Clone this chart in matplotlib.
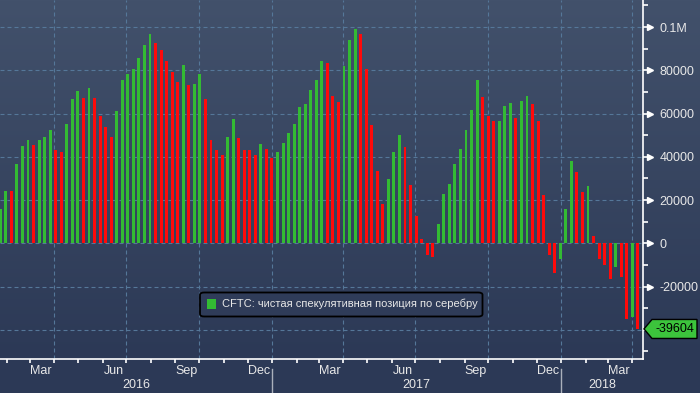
import numpy as np
import pandas as pd
import matplotlib
matplotlib.use("Agg")
import matplotlib.pyplot as plt
import matplotlib.dates as mdates
from matplotlib.patches import Polygon, FancyBboxPatch, Rectangle
from matplotlib.transforms import blended_transform_factory
from matplotlib.ticker import FixedLocator, MultipleLocator

plt.rcParams['font.family'] = ['Liberation Sans', 'DejaVu Sans']

# ---------------- data ----------------
last_date = "2018-04-06"
net_position = [
    15900, 24200, 24000, 36700, 45000, 47800, 45500, 47800, 49100, 52400,
    43100, 42200, 55100, 66700, 70400, 67200, 71800, 67200, 58900, 53800,
    49100, 61200, 75500, 78300, 80600, 85600, 91700, 96800, 92600, 89400,
    84300, 79200, 74600, 82400, 73200, 73600, 78300, 66700, 47800, 43100,
    40800, 49100, 57400, 48700, 43300, 43000, 40800, 45900, 43600, 39400,
    42200, 46300, 51000, 55100, 63000, 64400, 70900, 75500, 84300, 83400,
    68100, 65300, 81900, 94000, 99100, 96800, 80600, 54700, 33400, 18200,
    29700, 42200, 50100, 44500, 27000, 12600, 2000, -5300, -6200, 8900,
    22800, 27400, 36700, 43600, 52400, 61600, 75500, 67500, 58900, 56500,
    56700, 63500, 64900, 58100, 65800, 68100, 64400, 56500, 22300, -5300,
    -13600, -7100, 15900, 38000, 33000, 23700, 26500, 3400, -7400, -10200,
    -16300, -10800, -15700, -34800, -33900, -39604,
]
legend_label = "CFTC: чистая спекулятивная позиция по серебру"
month_label_dates = ["2016-03-15", "2016-06-15", "2016-09-15", "2016-12-15",
                     "2017-03-15", "2017-06-15", "2017-09-15", "2017-12-15",
                     "2018-03-15"]
month_labels = ["Mar", "Jun", "Sep", "Dec", "Mar", "Jun", "Sep", "Dec", "Mar"]
years = [2016, 2017, 2018]
y_major = [-40000, -20000, 0, 20000, 40000, 60000, 80000, 100000]
y_labels = ["", "-20000", "0", "20000", "40000", "60000", "80000", "0.1M"]

values = np.array(net_position, dtype=float)
dates = pd.date_range(end=last_date, periods=len(values), freq="7D")
prev = np.concatenate([[-np.inf], values[:-1]])
GREEN = "#33bb33"
RED = "#ff0a0a"
colors = [GREEN if v >= p else RED for v, p in zip(values, prev)]

# ---------------- figure ----------------
W, H = 700, 393
fig = plt.figure(figsize=(W / 100, H / 100), dpi=100)

# gradient background
bg = fig.add_axes([0, 0, 1, 1], zorder=-10)
top = np.array([66, 81, 107]) / 255
bot = np.array([44, 57, 86]) / 255
t = np.clip(np.linspace(0, 1, 393) / (359 / 393), 0, 1)[:, None]
grad = top * (1 - t) + bot * t
bg.imshow(grad[:, None, :], aspect="auto", extent=[0, 1, 0, 1])
bg.axis("off")

ax_l, ax_b = 0 / W, (H - 359) / H
ax_w, ax_h = 643 / W, 359 / H
ax = fig.add_axes([ax_l, ax_b, ax_w, ax_h])
ax.patch.set_alpha(0)

ax.bar(mdates.date2num(dates), values, width=3.7, align="edge",
       color=colors, linewidth=0, zorder=3)

x0 = mdates.date2num(pd.Timestamp("2016-04-01")) - 68.5
x1 = mdates.date2num(pd.Timestamp("2018-04-01")) + 13.3
ax.set_xlim(x0, x1)
ymin, ymax = -53500, 112500
ax.set_ylim(ymin, ymax)

GRID = "#557799"
for yv in y_major:
    ax.axhline(yv, color=GRID, lw=0.8, ls=(0, (3.6, 2.7)), zorder=1)
for q in pd.date_range("2016-04-01", "2018-04-01", freq="QS"):
    ax.axvline(mdates.date2num(q), color=GRID, lw=0.8, ls=(0, (3.6, 2.7)), zorder=1)

# spines
for s in ["top", "left"]:
    ax.spines[s].set_visible(False)
for s in ["bottom", "right"]:
    ax.spines[s].set_color("white")
    ax.spines[s].set_linewidth(1.2)

TXT = "#e8e8e8"
# y axis on right
ax.yaxis.tick_right()
ax.yaxis.set_major_locator(FixedLocator(y_major))
ax.set_yticklabels(y_labels)
ax.yaxis.set_minor_locator(MultipleLocator(10000))
ax.tick_params(axis="y", which="major", length=5, width=1.2, color="white",
               pad=7, labelsize=9, labelcolor=TXT, direction="out")
ax.tick_params(axis="y", which="minor", length=3.5, width=1.2, color="white",
               direction="out")
ax.tick_params(axis="y", left=False, which="both")
trans_y = blended_transform_factory(ax.transAxes, ax.transData)
for yv, lab in zip(y_major, y_labels):
    if lab:
        ax.plot([1 + 7.0 / 643], [yv], marker=">", ms=4.2, color="white",
                mec="white", transform=trans_y, clip_on=False, zorder=5)

# x axis
ax.xaxis.set_major_locator(FixedLocator(mdates.date2num(pd.to_datetime(month_label_dates))))
ax.set_xticklabels(month_labels)
ax.tick_params(axis="x", which="major", length=0, pad=4, labelsize=9, labelcolor=TXT)
month_starts = pd.date_range("2016-02-01", "2018-04-01", freq="MS")
ax.xaxis.set_minor_locator(FixedLocator(mdates.date2num(month_starts)))
ax.tick_params(axis="x", which="minor", length=3, width=1.2, color="white", direction="out")

trans_x = blended_transform_factory(ax.transData, ax.transAxes)
for i, yr in enumerate(years):
    a = max(x0, mdates.date2num(pd.Timestamp(f"{yr}-01-01")))
    b = min(x1, mdates.date2num(pd.Timestamp(f"{yr + 1}-01-01")))
    ax.text((a + b) / 2, -(385 - 359) / 359, str(yr), transform=trans_x,
            ha="center", va="center", fontsize=9, color=TXT)
    if i > 0:
        xs = mdates.date2num(pd.Timestamp(f"{yr}-01-01"))
        ax.plot([xs, xs], [-(369 - 359) / 359, -(393 - 359) / 359], color="#aab0bb",
                lw=1, transform=trans_x, clip_on=False)

# legend box
def fx(px):
    return px / W

def fy(py):
    return 1 - py / H

box = FancyBboxPatch((fx(200), fy(316.5)), fx(482.5) - fx(200), fy(292.5) - fy(316.5),
                     boxstyle="round,pad=0,rounding_size=0.006",
                     transform=fig.transFigure, facecolor="#2f3c59",
                     edgecolor="black", lw=1.3, zorder=20)
fig.add_artist(box)
fig.add_artist(Rectangle((fx(207), fy(309)), fx(216) - fx(207), fy(298.5) - fy(309),
                         transform=fig.transFigure, facecolor=GREEN, lw=0, zorder=21))
fig.text(fx(222), fy(304), legend_label, fontsize=8.05, color=TXT,
         ha="left", va="center", zorder=22)

# last value tag
last_v = values[-1]
y_tag = 359 - (last_v - ymin) / (ymax - ymin) * 359
pts = [(644, y_tag), (652, y_tag - 9.5), (697, y_tag - 9.5), (697, y_tag + 9.5), (652, y_tag + 9.5)]
fig.add_artist(Polygon([(fx(px), fy(py)) for px, py in pts], closed=True,
                       transform=fig.transFigure, facecolor="#3cc43c",
                       edgecolor="black", lw=1, zorder=20))
fig.text(fx(674.5), fy(y_tag), f"{int(last_v)}", fontsize=9, color="black",
         ha="center", va="center", zorder=21)

fig.savefig("out.png", dpi=100)
